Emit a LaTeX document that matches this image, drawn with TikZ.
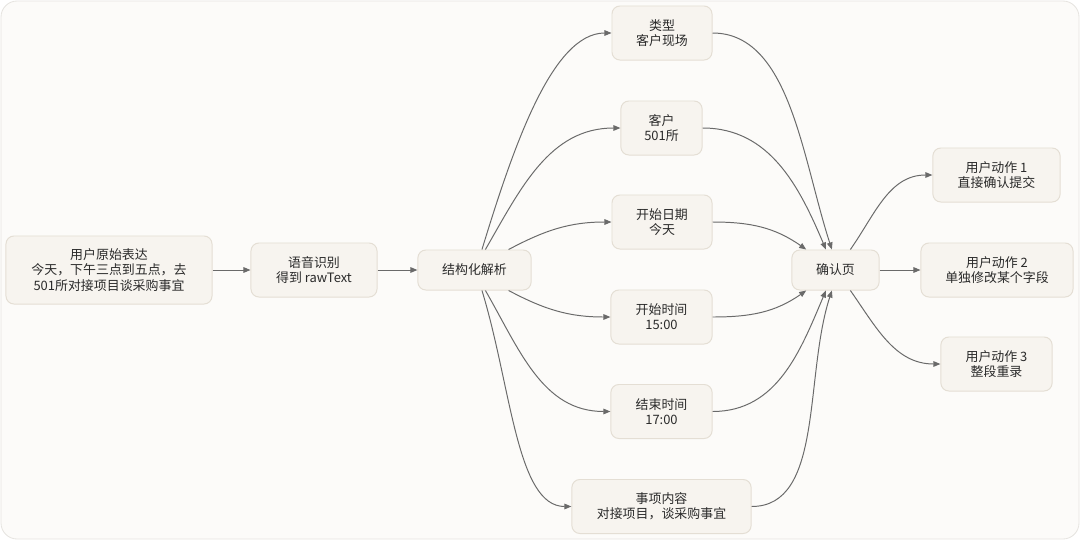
\documentclass[tikz,border=0pt]{standalone}
\usepackage{fontspec}
\setmainfont{Noto Sans CJK SC}
\usetikzlibrary{arrows.meta}
\definecolor{paper}{HTML}{FCFBF9}
\definecolor{frameline}{HTML}{E6E4E0}
\definecolor{boxfill}{HTML}{F7F4EF}
\definecolor{boxline}{HTML}{E4DED4}
\definecolor{wire}{HTML}{6A6A6A}
\definecolor{ink}{HTML}{2A2A2A}
\tikzstyle{field}=[draw=boxline, fill=boxfill, line width=0.7pt, rounded corners=0.2cm,
  align=center, inner sep=0pt, minimum height=1.35cm, text=ink,
  font=\fontsize{9.2}{10.8}\selectfont]
\tikzstyle{flow}=[draw=wire, line width=0.7pt, -{Triangle[length=5pt,width=4pt]}]

\begin{document}
\begin{tikzpicture}[x=0.025cm, y=-0.025cm]
          \useasboundingbox (0,0) rectangle (1080,540);
          \draw[frameline, fill=paper, line width=0.6pt, rounded corners=0.4cm]
            (1,1) rectangle (1079,539);

          % input chain
          \node[field, minimum width=5.15cm, minimum height=1.7cm] (say) at (109,270)
            {用户原始表达\\今天，下午三点到五点，去\\501所对接项目谈采购事宜};
          \node[field, minimum width=3.15cm] (asr) at (314,270) {语音识别\\得到 rawText};
          \node[field, minimum width=2.83cm, minimum height=1cm] (parse) at (474.5,270) {结构化解析};

          % parsed fields
          \node[field, minimum width=2.5cm] (kind) at (662,33) {类型\\客户现场};
          \node[field, minimum width=2.03cm] (client) at (661.5,128) {客户\\501所};
          \node[field, minimum width=2.5cm] (date) at (662,222) {开始日期\\今天};
          \node[field, minimum width=2.53cm] (start) at (661.5,317) {开始时间\\15:00};
          \node[field, minimum width=2.53cm] (stop) at (661.5,411.5) {结束时间\\17:00};
          \node[field, minimum width=4.48cm] (topic) at (661.5,506.5) {事项内容\\对接项目，谈采购事宜};

          % confirmation and actions
          \node[field, minimum width=2.18cm, minimum height=1cm] (confirm) at (835.5,270) {确认页};
          \node[field, minimum width=3.18cm] (act1) at (996.5,175) {用户动作 1\\直接确认提交};
          \node[field, minimum width=3.8cm] (act2) at (997,270) {用户动作 2\\单独修改某个字段};
          \node[field, minimum width=2.78cm] (act3) at (996.5,364) {用户动作 3\\整段重录};

          \draw[flow] (say) -- (asr);
          \draw[flow] (asr) -- (parse);

          \draw[flow] (parse.70) to[out=73, in=180, out looseness=1.1, in looseness=0.6] (kind.west);
          \draw[flow] (parse.62) to[out=60, in=180] (client.west);
          \draw[flow] (parse.31) to[out=28, in=180] (date.west);
          \draw[flow] (parse.-31) to[out=-28, in=180] (start.west);
          \draw[flow] (parse.-62) to[out=-60, in=180] (stop.west);
          \draw[flow] (parse.-70) to[out=-73, in=180, out looseness=1.1, in looseness=0.6] (topic.west);

          \draw[flow] (kind.east) to[out=0, in=108, out looseness=0.8] (confirm.100);
          \draw[flow] (client.east) to[out=0, in=113] (confirm.115);
          \draw[flow] (date.east) to[out=0, in=145] (confirm.145);
          \draw[flow] (start.east) to[out=0, in=-145] (confirm.-145);
          \draw[flow] (stop.east) to[out=0, in=-113] (confirm.-115);
          \draw[flow] (topic.east) to[out=0, in=-108, out looseness=0.8] (confirm.-100);

          \draw[flow] (confirm.54) to[out=55, in=180] (act1.west);
          \draw[flow] (confirm) -- (act2);
          \draw[flow] (confirm.-54) to[out=-55, in=180] (act3.west);
        \end{tikzpicture}
\end{document}
